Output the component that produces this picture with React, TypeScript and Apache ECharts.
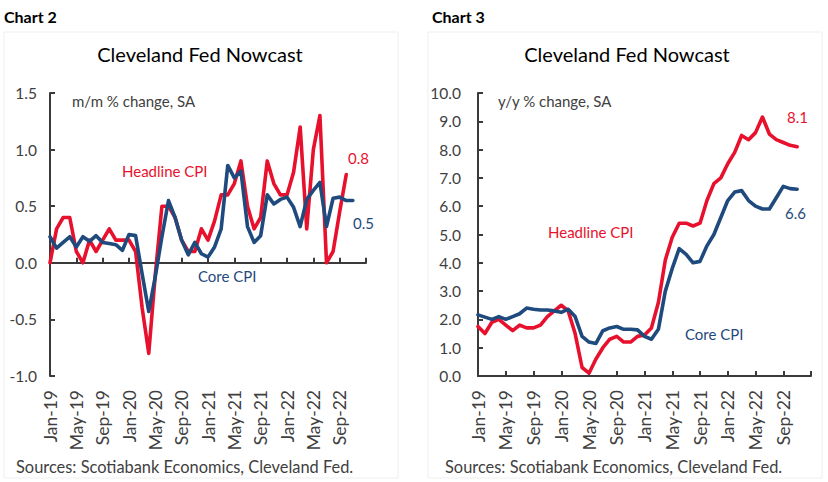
import React, { useEffect, useRef } from "react";
import * as echarts from "echarts";

const months = [
  "Jan-19", "Feb-19", "Mar-19", "Apr-19", "May-19", "Jun-19", "Jul-19", "Aug-19", "Sep-19", "Oct-19", "Nov-19", "Dec-19",
  "Jan-20", "Feb-20", "Mar-20", "Apr-20", "May-20", "Jun-20", "Jul-20", "Aug-20", "Sep-20", "Oct-20", "Nov-20", "Dec-20",
  "Jan-21", "Feb-21", "Mar-21", "Apr-21", "May-21", "Jun-21", "Jul-21", "Aug-21", "Sep-21", "Oct-21", "Nov-21", "Dec-21",
  "Jan-22", "Feb-22", "Mar-22", "Apr-22", "May-22", "Jun-22", "Jul-22", "Aug-22", "Sep-22", "Oct-22", "Nov-22", "Dec-22",
  "Jan-23",
];

// Chart 2: m/m % change, SA
const mmHeadline = [
  0.0, 0.3, 0.4, 0.4, 0.1, 0.0, 0.2, 0.1, 0.2, 0.3, 0.2, 0.2,
  0.2, 0.1, -0.4, -0.8, -0.1, 0.5, 0.5, 0.4, 0.2, 0.1, 0.1, 0.3,
  0.2, 0.37, 0.6, 0.6, 0.7, 0.9, 0.5, 0.3, 0.4, 0.9, 0.7, 0.6,
  0.6, 0.8, 1.2, 0.3, 1.0, 1.3, 0.0, 0.1, 0.45, 0.78,
];
const mmCore = [
  0.23, 0.13, 0.18, 0.23, 0.14, 0.23, 0.19, 0.24, 0.18, 0.17, 0.16, 0.11,
  0.25, 0.24, -0.1, -0.43, -0.12, 0.23, 0.55, 0.4, 0.2, 0.07, 0.18, 0.08,
  0.05, 0.14, 0.3, 0.86, 0.75, 0.81, 0.32, 0.18, 0.24, 0.6, 0.52, 0.56,
  0.58, 0.49, 0.32, 0.56, 0.64, 0.71, 0.32, 0.57, 0.58, 0.55, 0.55,
];

// Chart 3: y/y % change, SA
const yyHeadline = [
  1.75, 1.5, 1.9, 2.0, 1.8, 1.6, 1.8, 1.7, 1.7, 1.8, 2.1, 2.3,
  2.5, 2.3, 1.5, 0.3, 0.1, 0.6, 1.0, 1.3, 1.4, 1.2, 1.2, 1.4,
  1.45, 1.7, 2.6, 4.1, 4.9, 5.4, 5.4, 5.3, 5.4, 6.2, 6.8, 7.0,
  7.5, 7.9, 8.5, 8.35, 8.6, 9.15, 8.55, 8.35, 8.25, 8.15, 8.1,
];
const yyCore = [
  2.16, 2.08, 2.0, 2.1, 2.0, 2.1, 2.2, 2.4, 2.36, 2.33, 2.33, 2.3,
  2.25, 2.36, 2.1, 1.4, 1.2, 1.15, 1.6, 1.7, 1.75, 1.65, 1.65, 1.63,
  1.4, 1.3, 1.65, 3.0, 3.8, 4.5, 4.3, 4.0, 4.05, 4.6, 5.0, 5.6,
  6.2, 6.5, 6.55, 6.2, 6.0, 5.9, 5.9, 6.3, 6.7, 6.62, 6.6,
];

const mmTicks = { min: -1.0, max: 1.5, interval: 0.5 };
const yyTicks = { min: 0.0, max: 10.0, interval: 1.0 };

const RED = "#e8112d";
const BLUE = "#1f4a7d";
const AXIS = "#3a3a3a";
const TXT = "#404040";
const FONT = "Lato, 'Open Sans', sans-serif";

export default function App() {
  const ref = useRef<HTMLDivElement>(null);
  useEffect(() => {
    if (!ref.current) return;
    const chart = echarts.init(ref.current, null, { renderer: "svg" });
    const labelInterval = (i: number) => i % 4 === 0 && i < 48;
    const tickInterval = (i: number) => i % 4 === 0;
    const lineAxis = (gridIndex: number) => ({
      type: "category",
      gridIndex,
      data: months,
      boundaryGap: false,
      axisLine: { show: true, onZero: true, lineStyle: { color: AXIS, width: 2 } },
      axisTick: { show: true, inside: true, length: 5, interval: tickInterval, lineStyle: { color: AXIS, width: 2 } },
      axisLabel: { show: false },
      splitLine: { show: false },
    });
    const labelAxis = (gridIndex: number) => ({
      type: "category",
      gridIndex,
      data: months,
      boundaryGap: false,
      position: "bottom",
      axisLine: { show: false, onZero: false },
      axisTick: { show: false },
      axisLabel: {
        show: true,
        interval: labelInterval,
        rotate: 90,
        margin: 14,
        fontSize: 17.5,
        fontFamily: FONT,
        color: TXT,
        padding: [7, 0, 0, 0],
      },
      splitLine: { show: false },
    });
    const yAxis = (gridIndex: number, t: any, margin: number) => ({
      type: "value",
      gridIndex,
      min: t.min,
      max: t.max,
      interval: t.interval,
      axisLine: { show: true, lineStyle: { color: AXIS, width: 2 } },
      axisTick: { show: true, inside: true, length: 5, lineStyle: { color: AXIS, width: 2 } },
      axisLabel: {
        margin,
        fontSize: 15.5,
        fontFamily: FONT,
        color: TXT,
        formatter: (v: number) => v.toFixed(1),
      },
      splitLine: { show: false },
    });
    const line = (name: string, data: number[], color: string, xi: number, yi: number) => ({
      type: "line",
      name,
      data,
      xAxisIndex: xi,
      yAxisIndex: yi,
      symbol: "none",
      lineStyle: { color, width: 3.6, join: "round", cap: "round" },
      emphasis: { disabled: true },
    });
    const txt = (text: string, x: number, y: number, fill: string, opts: any = {}) => ({
      type: "text",
      x,
      y,
      style: {
        text,
        fill,
        fontSize: 15,
        fontFamily: FONT,
        verticalAlign: "middle",
        align: "left",
        ...opts,
      },
    });

    chart.setOption({
      animation: false,
      backgroundColor: "#ffffff",
      grid: [
        { left: 50, top: 93, width: 316, height: 283 },
        { left: 478, top: 93, width: 333, height: 283 },
      ],
      xAxis: [lineAxis(0), labelAxis(0), lineAxis(1), labelAxis(1)],
      yAxis: [yAxis(0, mmTicks, 13), yAxis(1, yyTicks, 17)],
      series: [
        line("Headline CPI m/m", mmHeadline, RED, 0, 0),
        line("Core CPI m/m", mmCore, BLUE, 0, 0),
        line("Headline CPI y/y", yyHeadline, RED, 2, 1),
        line("Core CPI y/y", yyCore, BLUE, 2, 1),
      ],
      graphic: [
        { type: "rect", shape: { x: 4, y: 32, width: 394, height: 446 }, style: { fill: "none", stroke: "#efefef", lineWidth: 1 } },
        { type: "rect", shape: { x: 428, y: 32, width: 394, height: 446 }, style: { fill: "none", stroke: "#efefef", lineWidth: 1 } },
        txt("Chart 2", 4, 16, "#000", { fontWeight: "bold", fontSize: 16 }),
        txt("Chart 3", 432, 16, "#000", { fontWeight: "bold", fontSize: 16 }),
        txt("Cleveland Fed Nowcast", 200, 54, "#000", { align: "center", fontSize: 20 }),
        txt("Cleveland Fed Nowcast", 627, 54, "#000", { align: "center", fontSize: 20 }),
        txt("m/m % change, SA", 72, 101, TXT),
        txt("y/y % change, SA", 498, 101, TXT),
        txt("Headline CPI", 122, 171, RED),
        txt("Core CPI", 198, 276, BLUE),
        txt("0.8", 348, 158, RED),
        txt("0.5", 353, 223, BLUE),
        txt("Headline CPI", 548, 232, RED),
        txt("Core CPI", 685, 334, BLUE),
        txt("8.1", 787, 117, RED),
        txt("6.6", 785, 213, BLUE),
        txt("Sources: Scotiabank Economics, Cleveland Fed.", 16, 466, TXT, { fontSize: 16.4 }),
        txt("Sources: Scotiabank Economics, Cleveland Fed.", 445, 466, TXT, { fontSize: 16.4 }),
      ],
    });
    return () => chart.dispose();
  }, []);
  return (
    <div
      ref={ref}
      style={{ position: "absolute", left: 0, top: 0, width: 828, height: 482, background: "#fff" }}
    />
  );
}
